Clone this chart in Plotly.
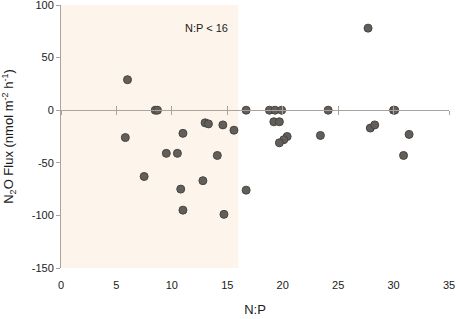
import plotly.graph_objects as go

np_ratio = [6.0, 5.8, 8.5, 8.7, 9.5, 10.5, 11.0, 13.0, 13.3, 14.6, 14.1, 7.5, 12.8, 10.8, 11.0, 14.7,
            15.6, 16.7, 16.7, 18.8, 19.3, 19.9, 24.1, 30.0, 30.1, 19.2, 19.7, 20.4, 20.1, 19.7,
            23.4, 27.7, 27.9, 28.3, 31.4, 30.9]
n2o_flux = [29, -26, 0, 0, -41, -41, -22, -12, -13, -14, -43, -63, -67, -75, -95, -99,
            -19, 0, -76, 0, 0, 0, 0, 0, 0, -11, -11, -25, -28, -31,
            -24, 78, -17, -14, -23, -43]
x_ticks = [0, 5, 10, 15, 20, 25, 30, 35]
y_ticks = [100, 50, 0, -50, -100, -150]
y_tick_labels = ["100", "50", "0", "-50", "-100", "-150"]
threshold = 16
x_range = [0, 35]
y_range = [-150, 100]

axis_col = "#aaa49e"
font = "Liberation Sans, Arial, sans-serif"

fig = go.Figure()
fig.add_trace(go.Scatter(
    x=np_ratio, y=n2o_flux, mode="markers",
    marker=dict(size=8, color="#625e5a", line=dict(color="#484541", width=1)),
    showlegend=False, hoverinfo="x+y"))
# invisible traces to host the zero-line axes
for ax in ["x2", "x3"]:
    fig.add_trace(go.Scatter(x=x_range, y=[0, 0], xaxis=ax, mode="lines",
                             line=dict(width=0), showlegend=False, hoverinfo="skip"))

zero_pos = (0 - y_range[0]) / (y_range[1] - y_range[0])

fig.update_layout(
    width=458, height=319,
    margin=dict(l=61, r=9, t=5, b=51),
    paper_bgcolor="white", plot_bgcolor="white",
    font=dict(family=font, size=11, color="#1a1a1a"),
    xaxis=dict(range=x_range, tickvals=x_ticks, showgrid=False, zeroline=False, showline=False,
               ticks="outside", ticklen=7, tickcolor="rgba(0,0,0,0)", automargin=False,
               title=dict(text="N:P", font=dict(size=13), standoff=14)),
    xaxis2=dict(range=x_range, tickvals=x_ticks, overlaying="x", anchor="free", position=zero_pos,
                showline=True, linecolor=axis_col, linewidth=1, ticks="outside", ticklen=4,
                tickcolor=axis_col, showticklabels=False, showgrid=False, zeroline=False,
                automargin=False),
    xaxis3=dict(range=x_range, tickvals=x_ticks, overlaying="x", anchor="free", position=zero_pos,
                showline=False, ticks="inside", ticklen=4, automargin=False,
                tickcolor=axis_col, showticklabels=False, showgrid=False, zeroline=False),
    yaxis=dict(range=y_range, tickvals=y_ticks, ticktext=y_tick_labels, showgrid=False,
               zeroline=False, automargin=False,
               showline=True, linecolor=axis_col, linewidth=1, ticks="outside", ticklen=4,
               tickcolor=axis_col, ticklabeloverflow="allow",
               title=dict(text="N<sub>2</sub>O Flux (nmol m<sup>-2</sup> h<sup>-1</sup>)",
                          font=dict(size=13))),
    shapes=[dict(type="rect", xref="x", yref="y", x0=x_range[0], x1=threshold,
                 y0=y_range[0], y1=y_range[1], fillcolor="#fdf4ec", line=dict(width=0),
                 layer="below")],
    annotations=[dict(x=15.2, y=78, xref="x", yref="y", text="N:P < 16", showarrow=False,
                      xanchor="right", font=dict(size=11, color="#1a1a1a"))],
)

fig.write_html("out.html", config={"displayModeBar": False},
               post_script="document.body.style.margin='0';")
